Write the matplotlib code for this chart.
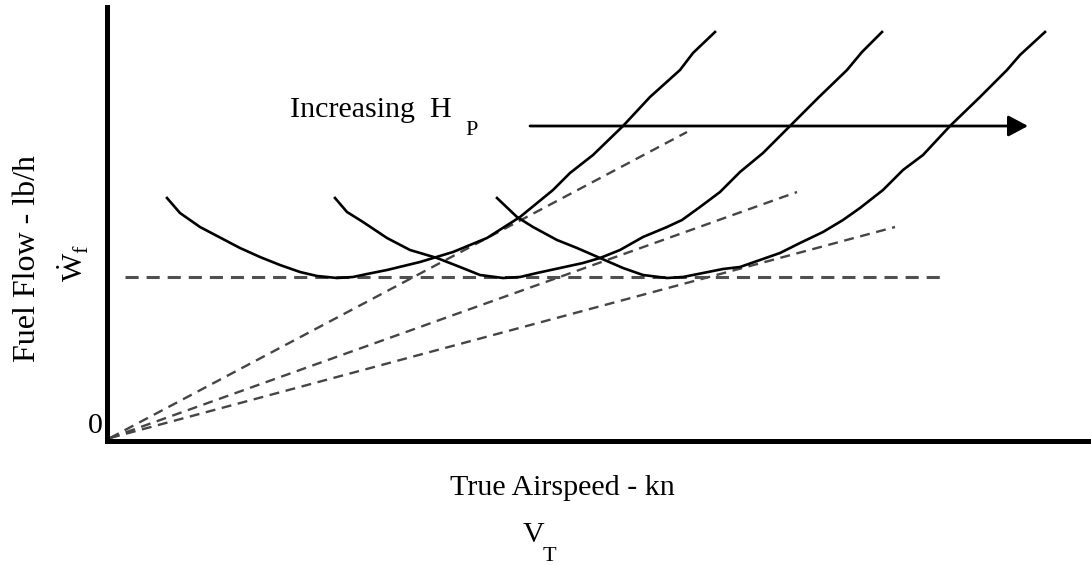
import numpy as np
import matplotlib.pyplot as plt

# fuel flow curves for three pressure altitudes (x: true airspeed, y: fuel flow)
curve1_x = [60, 73, 93, 133, 153, 173, 193, 210, 230, 246, 260, 280, 313, 346, 380,
            413, 446, 463, 486, 516, 543, 573, 586, 608]
curve1_y = [243, 228, 214, 193, 184, 176, 169, 165, 163, 164, 167, 171, 179, 189, 203,
            224, 251, 268, 286, 315, 344, 371, 388, 409]

curve2_x = [228, 240, 256, 280, 303, 330, 353, 373, 396, 413, 430, 453, 476, 493, 513,
            536, 560, 575, 593, 613, 633, 656, 683, 711, 740, 755, 775]
curve2_y = [243, 229, 219, 203, 191, 183, 174, 166, 163, 164, 168, 173, 178, 183, 191,
            204, 214, 221, 234, 249, 269, 288, 315, 343, 371, 389, 409]

curve3_x = [390, 410, 426, 450, 470, 493, 516, 536, 560, 576, 596, 616, 633, 653, 673,
            693, 716, 736, 753, 776, 796, 816, 843, 873, 900, 913, 938]
curve3_y = [243, 224, 214, 201, 193, 183, 173, 166, 163, 164, 168, 172, 174, 181, 188,
            198, 209, 221, 233, 251, 271, 286, 315, 344, 371, 386, 409]

# lines from the origin touching each curve (end points)
tangent_x = [580, 690, 788]
tangent_y = [309, 249, 214]

# minimum fuel flow level
min_flow = 164
min_flow_span = [18, 838]

# "increasing Hp" arrow
arrow_y = 315
arrow_span = [423, 921]

W, H = 1091, 565


def fx(px):
    return px / W


def fy(py):
    return 1 - py / H


plt.rcParams['font.family'] = ['Liberation Serif', 'DejaVu Serif']

fig = plt.figure(figsize=(W / 100, H / 100), dpi=100)
ax = fig.add_axes([107 / W, (H - 441) / H, (W - 107) / W, (441 - 7) / H])
ax.set_xlim(0, 984)
ax.set_ylim(0, 434)

for side in ['top', 'right']:
    ax.spines[side].set_visible(False)
for side in ['left', 'bottom']:
    ax.spines[side].set_linewidth(3.6)
ax.set_xticks([])
ax.set_yticks([])

# tangents from origin
for tx, ty in zip(tangent_x, tangent_y):
    ax.plot([3, tx], [3, ty], color='#454545', lw=1.7, dashes=(4.2, 2.8),
            dash_capstyle='butt')

ax.plot(min_flow_span, [min_flow, min_flow], color='#505050', lw=2.2,
        dashes=(4.3, 2.6), dash_capstyle='butt')

for cx, cy in [(curve1_x, curve1_y), (curve2_x, curve2_y), (curve3_x, curve3_y)]:
    ax.plot(cx, cy, color='black', lw=1.9, solid_joinstyle='round')

ax.annotate('', xy=(arrow_span[1], arrow_y), xytext=(arrow_span[0], arrow_y),
            arrowprops=dict(arrowstyle='-|>,head_length=0.6,head_width=0.32',
                            mutation_scale=20, lw=2.0, color='black',
                            shrinkA=0, shrinkB=0))

big = 21.6
small = 16

fig.text(fx(290), fy(117), 'Increasing  H', fontsize=big, va='baseline', ha='left')
fig.text(fx(465), fy(135), 'P', fontsize=small, va='baseline', ha='left')

fig.text(fx(450), fy(495), 'True Airspeed - kn', fontsize=big, va='baseline', ha='left')
fig.text(fx(523), fy(542), 'V', fontsize=big, va='baseline', ha='left')
fig.text(fx(543), fy(561), 'T', fontsize=small, va='baseline', ha='left')

fig.text(fx(35), fy(362), 'Fuel Flow - lb/h', fontsize=23, rotation=90,
         rotation_mode='anchor', va='baseline', ha='left')
fig.text(fx(82), fy(281), '\u1E86', fontsize=big, rotation=90,
         rotation_mode='anchor', va='baseline', ha='left')
fig.text(fx(87), fy(253), 'f', fontsize=small, rotation=90,
         rotation_mode='anchor', va='baseline', ha='left')

fig.text(fx(88), fy(433), '0', fontsize=big, va='baseline', ha='left')

fig.savefig('out.png', dpi=100)
